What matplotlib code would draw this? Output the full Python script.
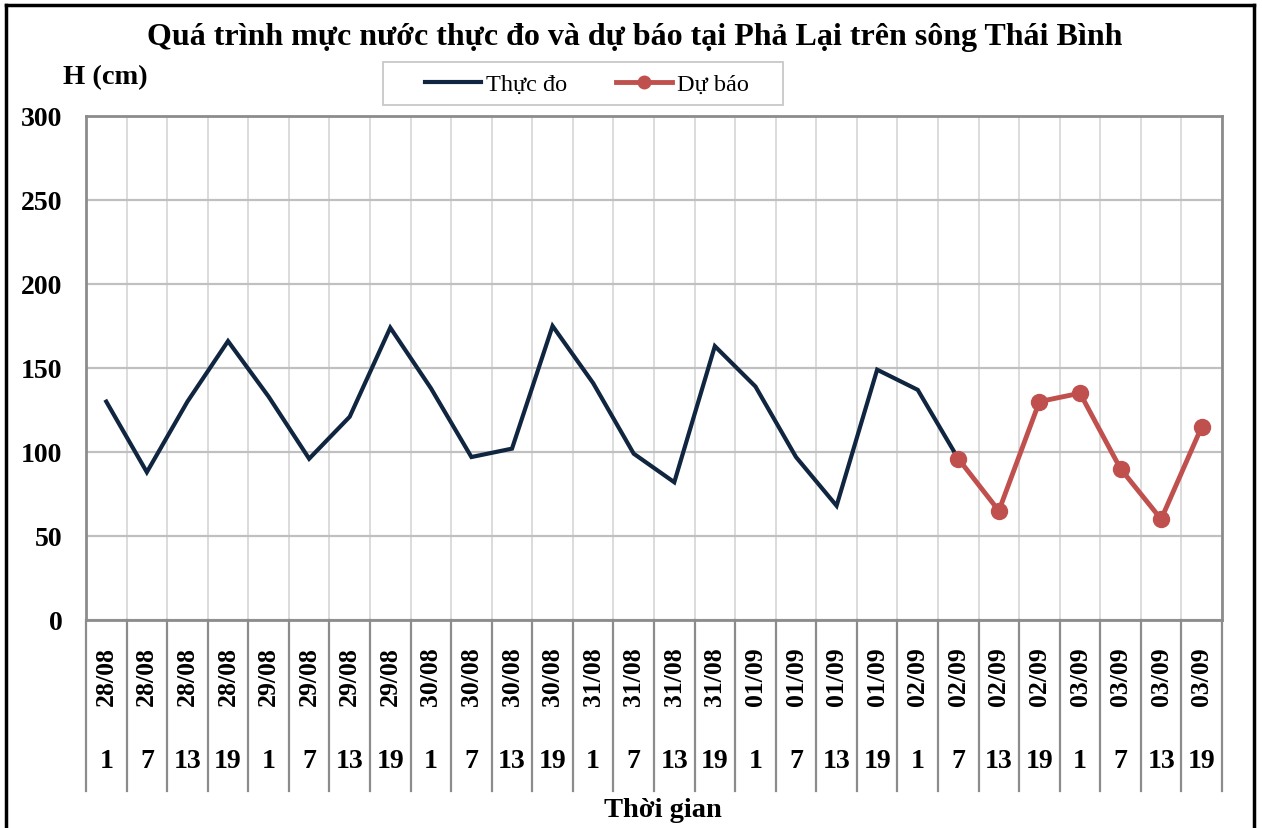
import matplotlib
matplotlib.use("Agg")
import matplotlib.pyplot as plt
import matplotlib.transforms as mtransforms
from matplotlib.lines import Line2D
from matplotlib.patches import Rectangle
import numpy as np

dates = ["28/08"] * 4 + ["29/08"] * 4 + ["30/08"] * 4 + ["31/08"] * 4 + \
        ["01/09"] * 4 + ["02/09"] * 4 + ["03/09"] * 4
hours = ["1", "7", "13", "19"] * 7

observed = [130, 88, 130, 166, 133, 96, 121, 174, 138, 97, 102, 175, 141, 99,
            82, 163, 139, 97, 68, 149, 137, 96]
forecast_start = 21
forecast = [96, 65, 130, 135, 90, 60, 115]

title = "Quá trình mực nước thực đo và dự báo tại Phả Lại trên sông Thái Bình"
ylabel = "H (cm)"
xlabel = "Thời gian"
legend_labels = ["Thực đo", "Dự báo"]
yticks = [0, 50, 100, 150, 200, 250, 300]

plt.rcParams['font.family'] = ['Liberation Serif', 'DejaVu Serif']

W, H = 1262, 829
fig = plt.figure(figsize=(W / 100, H / 100), dpi=100)

# outer border
fig.add_artist(plt.Line2D([6 / W, 6 / W], [0, 1 - 6 / H], color='black', lw=2.5,
                          transform=fig.transFigure))
fig.add_artist(plt.Line2D([6 / W, 1254 / W], [1 - 6 / H, 1 - 6 / H], color='black', lw=2.5,
                          transform=fig.transFigure))
fig.add_artist(plt.Line2D([1254 / W, 1254 / W], [1 - 6 / H, 0], color='black', lw=2.5,
                          transform=fig.transFigure))

left, right, top, bottom = 86, 1222, 117, 621
ax = fig.add_axes([left / W, 1 - bottom / H, (right - left) / W, (bottom - top) / H])

n = len(dates)
x = np.arange(n)
ax.set_xlim(-0.5, n - 0.5)
ax.set_ylim(0, 300)

ax.set_yticks(yticks)
ax.set_yticklabels([str(v) for v in yticks], fontsize=20, fontweight='bold')
ax.tick_params(axis='y', length=0, pad=17)
ax.set_xticks(np.arange(-0.5, n, 1.0))
ax.set_xticklabels([])
ax.tick_params(axis='x', length=0)

ax.grid(axis='y', color='#c0c0c0', lw=1.6)
ax.grid(axis='x', color='#d9d9d9', lw=1.3)
ax.set_axisbelow(True)
for s in ax.spines.values():
    s.set_color('#8c8c8c')
    s.set_linewidth(2)

ax.plot(x[:len(observed)], observed, color='#10253f', lw=3, solid_joinstyle='miter',
        zorder=3)
ax.plot(x[forecast_start:forecast_start + len(forecast)], forecast, color='#c0504d',
        lw=3.5, marker='o', ms=11.5, zorder=4)

# category axis labels and separators
trans = mtransforms.blended_transform_factory(ax.transData, ax.transAxes)
sep_bottom = -(792 - 621) / (bottom - top)
for k in range(n + 1):
    ax.plot([k - 0.5, k - 0.5], [0, sep_bottom], color='#8c8c8c', lw=1.6,
            transform=trans, clip_on=False)
date_y = -(677 - 621) / (bottom - top)
hour_y = -(762 - 621) / (bottom - top)
for i in range(n):
    ax.text(i, date_y, dates[i], transform=trans, rotation=90, ha='center', va='center',
            fontsize=18.5, fontweight='bold')
    ax.text(i, hour_y, hours[i], transform=trans, ha='center', va='center',
            fontsize=20, fontweight='bold')

fig.text(635 / W, 1 - 38 / H, title, ha='center', va='center', fontsize=23,
         fontweight='bold')
fig.text(105 / W, 1 - 78 / H, ylabel, ha='center', va='center', fontsize=20.5,
         fontweight='bold')
fig.text(663 / W, 1 - 811 / H, xlabel, ha='center', va='center', fontsize=20.5,
         fontweight='bold')

# legend box
fig.add_artist(Rectangle((383 / W, 1 - 106 / H), 400 / W, 43 / H, transform=fig.transFigure,
                         facecolor='white', edgecolor='#c8c8c8', lw=1.3, zorder=1))
handles = [Line2D([], [], color='#10253f', lw=3),
           Line2D([], [], color='#c0504d', lw=3.5, marker='o', ms=9)]
leg = fig.legend(handles, legend_labels, loc='center', ncol=2,
                 bbox_to_anchor=(587 / W, 1 - 85 / H), frameon=False,
                 prop={'size': 17.5}, handlelength=2.3, columnspacing=2.0,
                 handletextpad=0.2, borderpad=0.5, borderaxespad=0)
leg.set_zorder(2)

fig.savefig("out.png", dpi=100)
